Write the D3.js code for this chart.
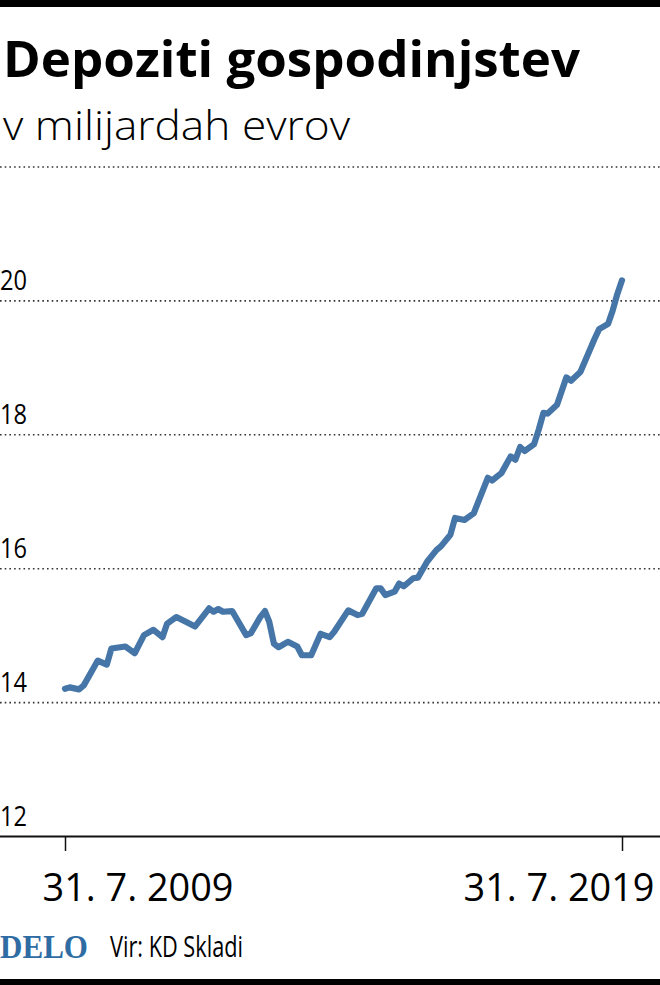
<!DOCTYPE html>
<html>
<head>
<meta charset="utf-8">
<script src="https://cdn.jsdelivr.net/npm/d3@7"></script>
<style>
  html, body { margin: 0; padding: 0; background: #fff; }
  svg { display: block; }
</style>
</head>
<body>
<svg id="chart" width="660" height="985"></svg>
<script>
// ---- data ----
const title = "Depoziti gospodinjstev";
const subtitle = "v milijardah evrov";
const source = "Vir: KD Skladi";
const brand = "DELO";

const months = ["2009-07","2009-08","2009-10","2009-11","2010-02","2010-04","2010-05","2010-08","2010-10","2010-12",
  "2011-02","2011-04","2011-05","2011-07","2011-09","2011-11","2012-02","2012-03","2012-04","2012-05",
  "2012-07","2012-10","2012-11","2013-01","2013-02","2013-03","2013-04","2013-05","2013-07","2013-09",
  "2013-10","2013-12","2014-02","2014-04","2014-05","2014-08","2014-10","2014-11","2015-02","2015-03",
  "2015-04","2015-06","2015-07","2015-08","2015-10","2015-11","2016-01","2016-03","2016-04","2016-06",
  "2016-07","2016-09","2016-11","2017-02","2017-03","2017-05","2017-07","2017-08","2017-09","2017-10",
  "2017-12","2018-01","2018-02","2018-03","2018-05","2018-07","2018-08","2018-10","2019-01","2019-02",
  "2019-04","2019-05","2019-06","2019-07"];
const deposits = [14.20,14.22,14.19,14.25,14.62,14.56,14.80,14.83,14.73,15.00,
  15.08,14.97,15.17,15.27,15.20,15.13,15.40,15.35,15.39,15.35,
  15.36,15.00,15.03,15.27,15.36,15.20,14.87,14.82,14.90,14.83,
  14.70,14.70,15.02,14.97,15.05,15.37,15.30,15.32,15.70,15.70,
  15.60,15.65,15.77,15.73,15.85,15.86,16.10,16.27,16.33,16.50,
  16.75,16.72,16.82,17.35,17.31,17.42,17.67,17.62,17.81,17.75,
  17.85,18.07,18.32,18.31,18.44,18.85,18.80,18.93,19.42,19.57,
  19.65,19.85,20.10,20.30];

const yTicks = [12, 14, 16, 18, 20, 22];
const xTickDates = ["2009-07", "2019-07"];
const xTickLabels = ["31. 7. 2009", "31. 7. 2019"];

// ---- setup ----
const W = 660, H = 985;
const svg = d3.select("#chart");
const parse = d3.utcParse("%Y-%m");
const data = months.map((m, i) => ({ date: parse(m), value: deposits[i] }));

const x = d3.scaleUtc()
  .domain([parse(xTickDates[0]), parse(xTickDates[1])])
  .range([65, 622]);
const y = d3.scaleLinear().domain([12, 22]).range([836, 166.5]);

// top and bottom bars
svg.append("rect").attr("x", 0).attr("y", 0).attr("width", W).attr("height", 7).attr("fill", "#000");
svg.append("rect").attr("x", 0).attr("y", 979).attr("width", W).attr("height", 6).attr("fill", "#000");

// title
svg.append("text").text(title)
  .attr("x", 3).attr("y", 77)
  .attr("font-family", "'Open Sans', sans-serif")
  .attr("font-weight", 700).attr("font-size", 51)
  .attr("textLength", 577).attr("lengthAdjust", "spacingAndGlyphs")
  .attr("fill", "#000");

svg.append("text").text(subtitle)
  .attr("x", 3).attr("y", 140)
  .attr("font-family", "'Open Sans', sans-serif")
  .attr("font-weight", 300).attr("font-size", 40)
  .attr("textLength", 347).attr("lengthAdjust", "spacingAndGlyphs")
  .attr("fill", "#000");

// y axis / gridlines
const yAxis = d3.axisRight(y)
  .tickValues(yTicks)
  .tickSize(W)
  .tickFormat(d => d === 22 ? "" : String(d));

const gy = svg.append("g").attr("transform", "translate(0,0)").call(yAxis);
gy.select(".domain").remove();
gy.selectAll(".tick line")
  .attr("stroke", d => d === 12 ? "#111" : "#333")
  .attr("stroke-width", d => d === 12 ? 2 : 1.6)
  .attr("stroke-dasharray", d => d === 12 ? null : "1.6,3.1");
gy.selectAll(".tick text")
  .attr("x", 0).attr("dy", null).attr("y", -11)
  .attr("text-anchor", "start")
  .attr("font-family", "'Open Sans', sans-serif")
  .attr("font-size", 28)
  .attr("textLength", 27).attr("lengthAdjust", "spacingAndGlyphs")
  .attr("fill", "#000");

// x axis
const xAxis = d3.axisBottom(x)
  .tickValues(xTickDates.map(parse))
  .tickSize(15)
  .tickFormat((d, i) => xTickLabels[i]);
const gx = svg.append("g").attr("transform", "translate(0,836)").call(xAxis);
gx.select(".domain").remove();
gx.selectAll(".tick line").attr("stroke", "#111").attr("stroke-width", 1.5);
gx.selectAll(".tick text")
  .attr("y", 65).attr("dy", null)
  .attr("font-family", "'Open Sans', sans-serif")
  .attr("font-size", 38)
  .attr("fill", "#000")
  .attr("text-anchor", (d, i) => i === 0 ? "start" : "end")
  .attr("x", (d, i) => i === 0 ? -23 : 32)
  .attr("textLength", 191).attr("lengthAdjust", "spacingAndGlyphs");

// line
const line = d3.line()
  .x(d => x(d.date))
  .y(d => y(d.value))
  .curve(d3.curveLinear);

svg.append("path")
  .datum(data)
  .attr("d", line)
  .attr("fill", "none")
  .attr("stroke", "#4676a8")
  .attr("stroke-width", 6.2)
  .attr("stroke-linejoin", "round")
  .attr("stroke-linecap", "round");

// footer
svg.append("text").text(brand)
  .attr("x", 0).attr("y", 958)
  .attr("font-family", "'Liberation Serif', 'DejaVu Serif', serif")
  .attr("font-weight", 700).attr("font-size", 34)
  .attr("textLength", 88).attr("lengthAdjust", "spacingAndGlyphs")
  .attr("fill", "#2f6ca3");

svg.append("text").text(source)
  .attr("x", 110).attr("y", 957)
  .attr("font-family", "'Open Sans', sans-serif")
  .attr("font-size", 29)
  .attr("textLength", 133).attr("lengthAdjust", "spacingAndGlyphs")
  .attr("fill", "#000");
</script>
</body>
</html>
